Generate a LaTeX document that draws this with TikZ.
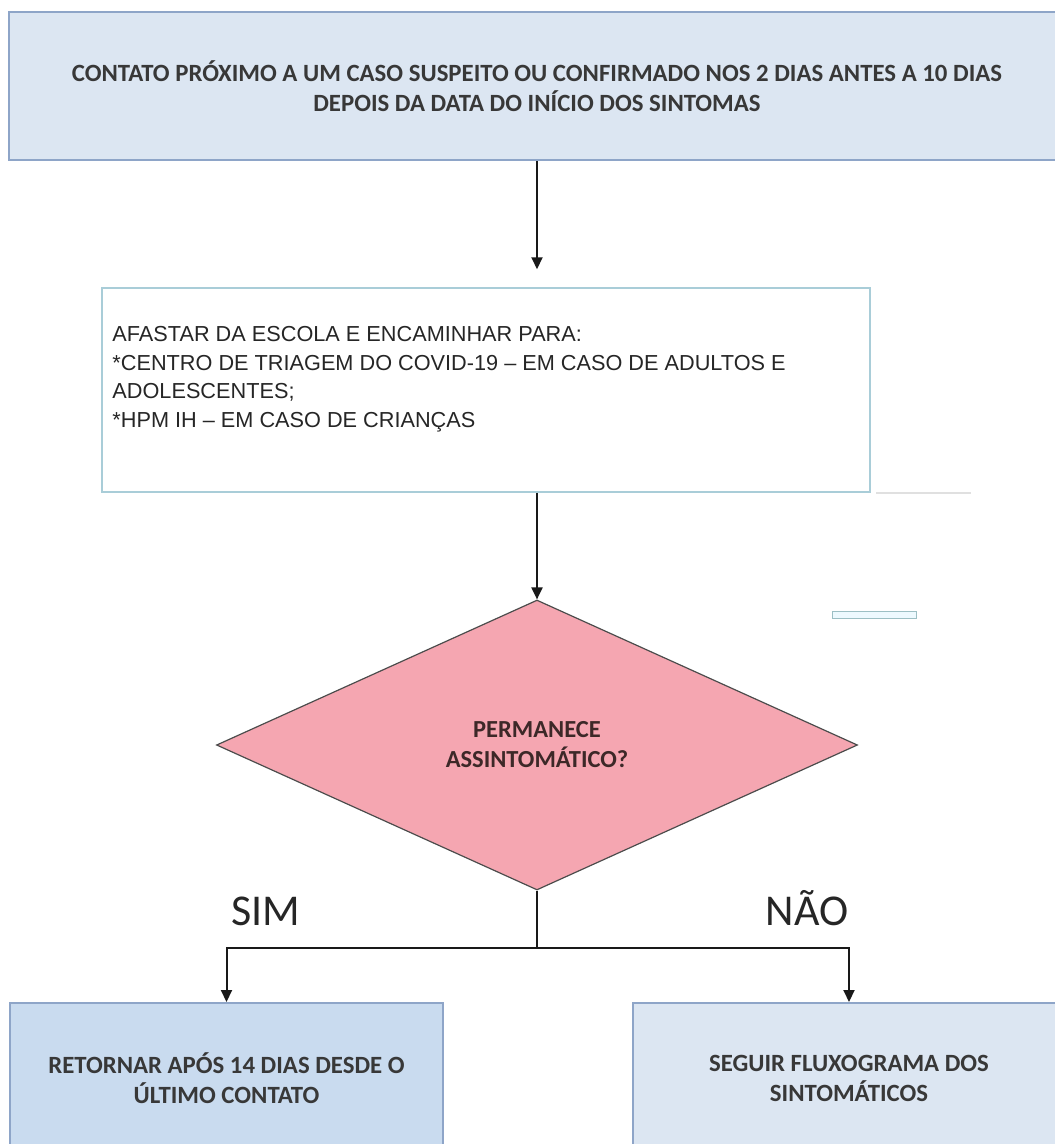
\documentclass[tikz,border=0pt]{standalone}
\usepackage{fontspec}
\setmainfont{Carlito}
\newfontfamily\arialfont{Liberation Sans}
\usetikzlibrary{arrows.meta, shapes.geometric}
\definecolor{azulcaixa}{HTML}{DCE6F2}
\definecolor{azulescuro}{HTML}{C9DBEF}
\definecolor{bordaazul}{HTML}{8EA5C8}
\definecolor{bordaclara}{HTML}{A9CDD8}
\definecolor{bordabarra}{HTML}{9CBFC4}
\definecolor{rosa}{HTML}{F5A6B1}
\definecolor{textocinza}{HTML}{383838}
\definecolor{textorosa}{HTML}{3D2828}
\tikzset{
    caixa/.style={
        draw=bordaazul, line width=2pt, fill=azulcaixa, inner sep=0pt,
        align=center, text=textocinza,
        font=\bfseries\fontsize{24.8}{30}\selectfont
    },
    seta/.style={
        draw=black!90, line width=2pt,
        -{Triangle[length=12pt, width=11pt]}
    }
}

\begin{document}
\begin{tikzpicture}[x=1pt, y=-1pt]

	\useasboundingbox (0,0) rectangle (1055,1144);
	\clip (0,0) rectangle (1055,1144);

		% Caixa do topo
		\node[caixa, minimum width=1056pt, minimum height=148pt] (contato) at (537,86)
			{CONTATO PRÓXIMO A UM CASO SUSPEITO OU CONFIRMADO NOS 2 DIAS ANTES A 10 DIAS\\
			DEPOIS DA DATA DO INÍCIO DOS SINTOMAS};

		% Encaminhamento
		\node[draw=bordaclara, line width=1.5pt, fill=white, inner sep=0pt,
			minimum width=768pt, minimum height=204pt] (afastar) at (486,390) {};
		\node[anchor=north west, align=left, inner sep=0pt, text=black!85,
			font=\arialfont\fontsize{21.7}{28.5}\selectfont] (afastartxt)
			at ([xshift=11pt, yshift=-39pt]afastar.north west)
			{AFASTAR DA ESCOLA E ENCAMINHAR PARA:\\
			*CENTRO DE TRIAGEM DO COVID-19 – EM CASO DE ADULTOS E\\
			ADOLESCENTES;\\
			*HPM IH – EM CASO DE CRIANÇAS};
		\draw[black!12, line width=1.5pt] ([xshift=5pt]afastar.south east) -- ++(95,0);

		% Decisão
		\node[diamond, draw=black!70, line width=1.2pt, fill=rosa, inner sep=0pt,
			minimum width=641pt, minimum height=290pt, align=center,
			text=textorosa,
			font=\bfseries\fontsize{24.5}{30}\selectfont] (decisao) at (537,745)
			{PERMANECE\\ASSINTOMÁTICO?};
		\node[draw=bordabarra, fill=cyan!7, line width=1pt, inner sep=0pt,
			minimum width=84pt, minimum height=7pt] (barra) at (874,614.5) {};

		% Saídas
		\node[caixa, fill=azulescuro, minimum width=433pt, minimum height=150pt] (retornar)
			at (226.5,1078) {RETORNAR APÓS 14 DIAS DESDE O\\ÚLTIMO CONTATO};
		\node[caixa, minimum width=432pt, minimum height=150pt] (seguir)
			at (849,1078) {SEGUIR FLUXOGRAMA DOS\\SINTOMÁTICOS};

		% Conectores
		\draw[seta] (contato.south) -- ([yshift=18pt]contato.south |- afastar.north);
		\draw[seta] (afastar.south -| decisao.north) -- (decisao.north);
		\draw[black!90, line width=2pt] (decisao.south) -- ++(0,57) coordinate (ramo);
		\draw[seta] (ramo) -| (retornar.north);
		\draw[seta] (ramo) -| (seguir.north);

		% Rótulos
		\node[anchor=base, text=black!85, font=\fontsize{44}{44}\selectfont] (sim)
			at (266,925) {SIM};
		\node[anchor=base, text=black!85, font=\fontsize{44}{44}\selectfont] (nao)
			at (807,925) {NÃO};

\end{tikzpicture}
\end{document}
